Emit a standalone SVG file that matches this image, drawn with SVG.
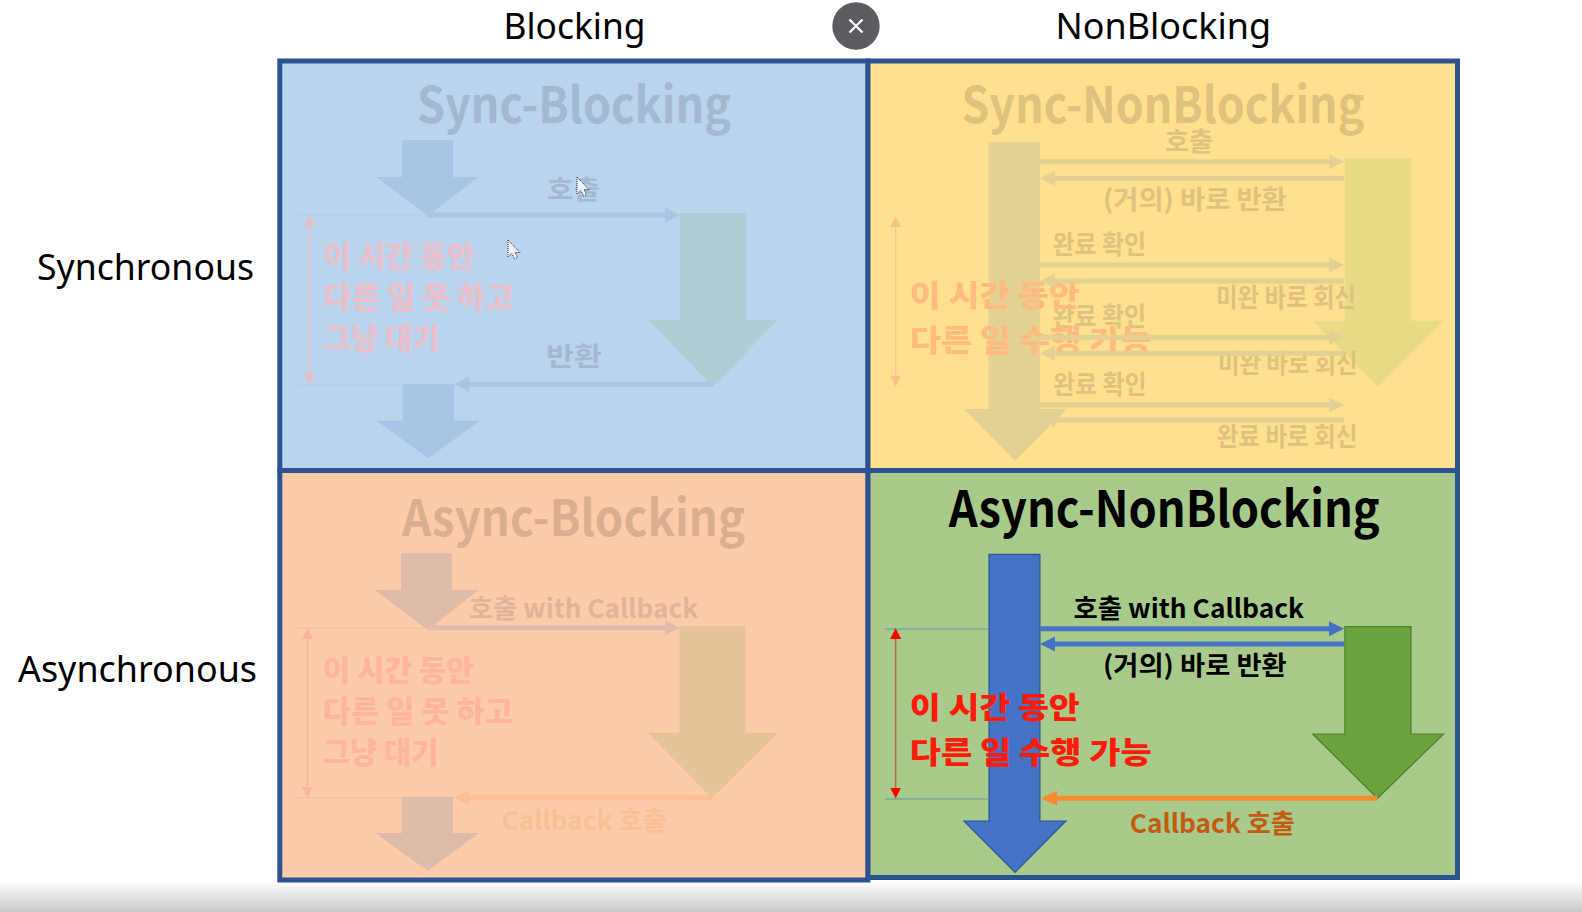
<svg xmlns="http://www.w3.org/2000/svg" width="1582" height="912" viewBox="0 0 1582 912">
<style>
.h{font-family:"Noto Sans","Liberation Sans",sans-serif;font-size:36px;fill:#000}
.t{font-family:"Noto Sans CJK KR","Noto Sans",sans-serif;font-weight:700;font-size:50px}
.m{font-family:"Noto Sans CJK KR","Noto Sans",sans-serif;font-weight:900;font-size:30px}
.s{font-family:"Noto Sans CJK KR","Noto Sans",sans-serif;font-weight:700;font-size:26px}
.cell{stroke:#2C5292;stroke-width:5}
.thin{stroke-width:1;fill:none}
.bar{stroke-width:5;fill:none}
.dim{stroke-width:1.6;fill:none}
</style>
<defs>
<linearGradient id="shade" x1="0" y1="0" x2="0" y2="1"><stop offset="0" stop-color="#fff"/><stop offset="1" stop-color="#c9c9c9"/></linearGradient>
<path id="cursor" d="M0 0V17L4 13.5L6.5 19L9.5 17.5L7 12.5H12z" fill="#eef4fa" stroke="#223" stroke-width="1" stroke-dasharray="1 1"/>
<marker id="hBlue" markerUnits="userSpaceOnUse" markerWidth="15" markerHeight="16" refX="0" refY="8" orient="auto"><path d="M0 .5L15 8L0 15.5z" fill="#A8C5E6"/></marker>
<marker id="hYel" markerUnits="userSpaceOnUse" markerWidth="15" markerHeight="16" refX="0" refY="8" orient="auto"><path d="M0 .5L15 8L0 15.5z" fill="#E3D093"/></marker>
<marker id="hTan" markerUnits="userSpaceOnUse" markerWidth="15" markerHeight="16" refX="0" refY="8" orient="auto"><path d="M0 .5L15 8L0 15.5z" fill="#E0BDAB"/></marker>
<marker id="hPeach" markerUnits="userSpaceOnUse" markerWidth="15" markerHeight="16" refX="0" refY="8" orient="auto"><path d="M0 .5L15 8L0 15.5z" fill="#FBBF92"/></marker>
<marker id="hRoyal" markerUnits="userSpaceOnUse" markerWidth="15" markerHeight="16" refX="0" refY="8" orient="auto"><path d="M0 .5L15 8L0 15.5z" fill="#4472C4"/></marker>
<marker id="hOrange" markerUnits="userSpaceOnUse" markerWidth="16" markerHeight="16" refX="0" refY="8" orient="auto"><path d="M0 .5L16 8L0 15.5z" fill="#F58A2E"/></marker>
<marker id="dPink" markerUnits="userSpaceOnUse" markerWidth="11" markerHeight="12" refX="0" refY="6" orient="auto-start-reverse"><path d="M0 .5L11 6L0 11.5z" fill="#E3BFC9"/></marker>
<marker id="dAmber" markerUnits="userSpaceOnUse" markerWidth="11" markerHeight="12" refX="0" refY="6" orient="auto-start-reverse"><path d="M0 .5L11 6L0 11.5z" fill="#FBC08A"/></marker>
<marker id="dSalmon" markerUnits="userSpaceOnUse" markerWidth="11" markerHeight="12" refX="0" refY="6" orient="auto-start-reverse"><path d="M0 .5L11 6L0 11.5z" fill="#F9B49B"/></marker>
<marker id="dRed" markerUnits="userSpaceOnUse" markerWidth="11" markerHeight="12" refX="0" refY="6" orient="auto-start-reverse"><path d="M0 .5L11 6L0 11.5z" fill="#FF0000"/></marker>
</defs>
<rect width="1582" height="912" fill="#fff"/>
<rect id="bottom-shade" x="0" y="880" width="1582" height="32" fill="url(#shade)"/>

<g id="headers">
<text class="h" x="503.5" y="38.5" textLength="142" lengthAdjust="spacingAndGlyphs">Blocking</text>
<text class="h" x="1055.5" y="38.5" textLength="215.5" lengthAdjust="spacingAndGlyphs">NonBlocking</text>
<text class="h" x="37" y="279.5" textLength="217" lengthAdjust="spacingAndGlyphs">Synchronous</text>
<text class="h" x="18" y="681.5" textLength="239" lengthAdjust="spacingAndGlyphs">Asynchronous</text>
</g>
<g id="close-button">
<circle cx="856" cy="26" r="23.7" fill="#5A5C60"/>
<path d="M849.5 19.5L862.5 32.5M862.5 19.5L849.5 32.5" stroke="#fff" stroke-width="2.2" fill="none"/>
</g>

<g id="cell-sync-blocking"><rect class="cell" x="279.8" y="61" width="588.2" height="409.5" fill="#BAD4EE"/></g>
<g id="cell-sync-nonblocking"><rect class="cell" x="868" y="61" width="589.5" height="409.5" fill="#FFE08F"/></g>
<g id="cell-async-blocking"><rect class="cell" x="279.8" y="470.5" width="588.2" height="409.5" fill="#FDCBA9"/></g>
<g id="cell-async-nonblocking"><rect class="cell" x="868" y="470.5" width="589.5" height="407" fill="#A8CB8C"/></g>

<g id="sb-caller-top"><polygon points="402,140 453,140 453,177 478.6,177 427.7,215.7 376,177 402,177" fill="#A8C5E6"/></g>
<g id="sb-callee"><polygon points="680,213 746.5,213 746.5,320 778,320 713,386.7 648,320 680,320" fill="#B0CDD7"/></g>
<g id="sb-caller-bottom"><polygon points="402.8,384.3 454,384.3 454,420.7 479.7,420.7 428.4,458.3 376.4,420.7 402.8,420.7" fill="#A8C5E6"/></g>
<g id="sn-caller"><polygon points="988.6,142.3 1039.9,142.3 1039.9,409 1066.7,409 1015,460.7 964,409 988.6,409" fill="#E3D093"/></g>
<g id="sn-callee"><polygon points="1344.9,158 1411,158 1411,320.7 1443.6,320.7 1378,386.7 1312.7,320.7 1344.9,320.7" fill="#E9DA87"/></g>
<g id="ab-caller-top"><polygon points="401,553.3 452,553.3 452,590 478.6,590 427.7,630 375,590 401,590" fill="#DEBCA9"/></g>
<g id="ab-callee"><polygon points="679.5,626 745.3,626 745.3,732.7 777.8,732.7 712,798.3 647.7,732.7 679.5,732.7" fill="#E5C497"/></g>
<g id="ab-caller-bottom"><polygon points="401.6,796.7 453,796.7 453,833 479,833 427.7,870.7 375,833 401.6,833" fill="#DEBCA9"/></g>
<g id="an-caller"><polygon points="989,554.3 1039.9,554.3 1039.9,821 1065.9,821 1015,872.3 964,821 989,821" fill="#4472C4" stroke="#2F5597" stroke-width="1.2"/></g>
<g id="an-callee"><polygon points="1344.9,626.7 1411,626.7 1411,734 1443.6,734 1377.4,798.3 1312.7,734 1344.9,734" fill="#6BA33F" stroke="#507E32" stroke-width="1.2"/></g>

<g id="sb-labels">
<text class="t" x="417" y="123" textLength="314" lengthAdjust="spacingAndGlyphs" fill="#A3B9D1">Sync-Blocking</text>
<text class="s" x="547" y="199" textLength="53" lengthAdjust="spacingAndGlyphs" fill="#A3B9D1">호출</text>
<text class="s" x="546" y="366" textLength="56" lengthAdjust="spacingAndGlyphs" fill="#A3B9D1">반환</text>
<text class="m" x="323.6" y="267" textLength="151" lengthAdjust="spacingAndGlyphs" fill="#E8BFCB">이 시간 동안</text>
<text class="m" x="323.6" y="308" textLength="190" lengthAdjust="spacingAndGlyphs" fill="#E8BFCB">다른 일 못 하고</text>
<text class="m" x="323.6" y="349" textLength="116" lengthAdjust="spacingAndGlyphs" fill="#E8BFCB">그냥 대기</text>
</g>
<g id="sn-labels">
<text class="t" x="961.4" y="123" textLength="403" lengthAdjust="spacingAndGlyphs" fill="#DEC27E">Sync-NonBlocking</text>
<text class="s" x="1165" y="151" textLength="48" lengthAdjust="spacingAndGlyphs" fill="#DEC27E">호출</text>
<text class="s" x="1103" y="209" textLength="183.7" lengthAdjust="spacingAndGlyphs" fill="#DEC27E">(거의) 바로 반환</text>
<text class="s" x="1052.5" y="254" textLength="93.5" lengthAdjust="spacingAndGlyphs" fill="#DEC27E">완료 확인</text>
<text class="s" x="1216" y="306.5" textLength="140" lengthAdjust="spacingAndGlyphs" fill="#DEC27E">미완 바로 회신</text>
<text class="s" x="1052.5" y="326" textLength="93.5" lengthAdjust="spacingAndGlyphs" fill="#DEC27E">완료 확인</text>
<text class="s" x="1218" y="373" textLength="139.5" lengthAdjust="spacingAndGlyphs" fill="#DEC27E">미완 바로 회신</text>
<text class="s" x="1053" y="394" textLength="93.5" lengthAdjust="spacingAndGlyphs" fill="#DEC27E">완료 확인</text>
<text class="s" x="1216.7" y="445.5" textLength="140.8" lengthAdjust="spacingAndGlyphs" fill="#DEC27E">완료 바로 회신</text>
<text class="m" x="909.8" y="306" textLength="170" lengthAdjust="spacingAndGlyphs" fill="#FFBB7F">이 시간 동안</text>
<text class="m" x="909.8" y="351" textLength="241.8" lengthAdjust="spacingAndGlyphs" fill="#FFBB7F">다른 일 수행 가능</text>
</g>
<g id="ab-labels">
<text class="t" x="402" y="536" textLength="343.3" lengthAdjust="spacingAndGlyphs" fill="#DCAE90">Async-Blocking</text>
<text class="s" x="469" y="618" textLength="229" lengthAdjust="spacingAndGlyphs" fill="#DFB498">호출 with Callback</text>
<text class="s" x="501.5" y="830" textLength="165.4" lengthAdjust="spacingAndGlyphs" fill="#F9C093">Callback 호출</text>
<text class="m" x="322.8" y="680.5" textLength="150.8" lengthAdjust="spacingAndGlyphs" fill="#FFB59B">이 시간 동안</text>
<text class="m" x="322.8" y="721.5" textLength="190.2" lengthAdjust="spacingAndGlyphs" fill="#FFB59B">다른 일 못 하고</text>
<text class="m" x="322.8" y="762.5" textLength="115.6" lengthAdjust="spacingAndGlyphs" fill="#FFB59B">그냥 대기</text>
</g>
<g id="an-labels">
<text class="t" x="948.8" y="527" textLength="431" lengthAdjust="spacingAndGlyphs" fill="#000">Async-NonBlocking</text>
<text class="s" x="1073.5" y="617.5" textLength="230.5" lengthAdjust="spacingAndGlyphs" fill="#000">호출 with Callback</text>
<text class="s" x="1103" y="675" textLength="183.7" lengthAdjust="spacingAndGlyphs" fill="#000">(거의) 바로 반환</text>
<text class="s" x="1129.8" y="832.5" textLength="165.2" lengthAdjust="spacingAndGlyphs" fill="#C55A11">Callback 호출</text>
<text class="m" x="909.8" y="718" textLength="170" lengthAdjust="spacingAndGlyphs" fill="#FF1A0A">이 시간 동안</text>
<text class="m" x="909.8" y="763" textLength="241.8" lengthAdjust="spacingAndGlyphs" fill="#FF1A0A">다른 일 수행 가능</text>
</g>

<g id="connectors">
<g stroke="#AFCBE6" class="thin"><path d="M298.7 215H427M298.7 385H402" fill="none"/></g>
<line class="dim" x1="309.4" y1="226" x2="309.4" y2="374" stroke="#E3BFC9" marker-start="url(#dPink)" marker-end="url(#dPink)"/>
<line class="bar" x1="427" y1="215" x2="665" y2="215" stroke="#A8C5E6" marker-end="url(#hBlue)"/>
<line class="bar" x1="713" y1="384.3" x2="469" y2="384.3" stroke="#A8C5E6" marker-end="url(#hBlue)"/>

<g stroke="#F8D99A" class="thin"><path d="M885 216H988.6M885 386.7H988.6" fill="none"/></g>
<line class="dim" x1="895.6" y1="227" x2="895.6" y2="375.7" stroke="#FBC58C" marker-start="url(#dAmber)" marker-end="url(#dAmber)"/>
<g class="bar" stroke="#E3D093">
<line x1="1040" y1="161.7" x2="1329" y2="161.7" marker-end="url(#hYel)"/>
<line x1="1344" y1="178.3" x2="1055" y2="178.3" marker-end="url(#hYel)"/>
<line x1="1040" y1="265" x2="1329" y2="265" marker-end="url(#hYel)"/>
<line x1="1344" y1="281" x2="1055" y2="281" marker-end="url(#hYel)"/>
<line x1="1040" y1="337.3" x2="1329" y2="337.3" marker-end="url(#hYel)"/>
<line x1="1344" y1="353.3" x2="1055" y2="353.3" marker-end="url(#hYel)"/>
<line x1="1040" y1="405" x2="1329" y2="405" marker-end="url(#hYel)"/>
<line x1="1344" y1="420" x2="1055" y2="420" marker-end="url(#hYel)"/>
</g>

<g stroke="#ECBFA0" class="thin"><path d="M296.8 628.3H427M296.8 797.7H401.6" fill="none"/></g>
<line class="dim" x1="307.5" y1="639" x2="307.5" y2="786.7" stroke="#F9B49B" marker-start="url(#dSalmon)" marker-end="url(#dSalmon)"/>
<line class="bar" x1="427" y1="627.7" x2="665" y2="627.7" stroke="#E0BDAB" marker-end="url(#hTan)"/>
<line class="bar" x1="712" y1="797.7" x2="469" y2="797.7" stroke="#FBBF92" marker-end="url(#hPeach)"/>

<g stroke="#5E9AA0" class="thin"><path d="M885 629H989M885 799H989" fill="none"/></g>
<line class="dim" x1="895.6" y1="639" x2="895.6" y2="787.5" stroke="#B56E3C" marker-start="url(#dRed)" marker-end="url(#dRed)"/>
<line class="bar" x1="1040" y1="628.7" x2="1329" y2="628.7" stroke="#4472C4" marker-end="url(#hRoyal)"/>
<line class="bar" x1="1344" y1="644" x2="1055" y2="644" stroke="#4472C4" marker-end="url(#hRoyal)"/>
<line class="bar" x1="1377.4" y1="798.3" x2="1057" y2="798.3" stroke="#F58A2E" marker-end="url(#hOrange)"/>
</g>

<g id="cursors">
<use href="#cursor" x="577" y="177"/>
<use href="#cursor" x="508" y="240"/>
</g>
</svg>
